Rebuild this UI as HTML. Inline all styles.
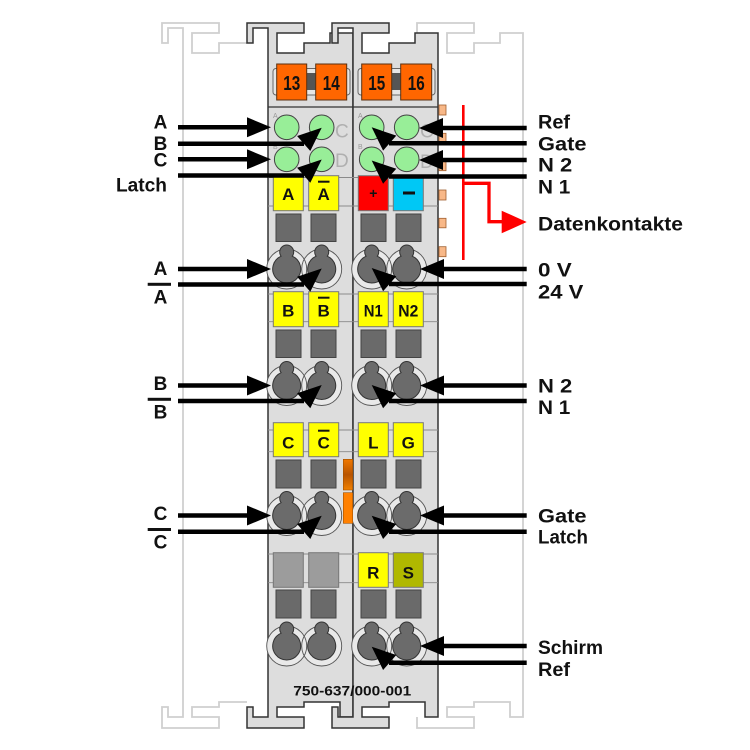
<!DOCTYPE html>
<html><head><meta charset="utf-8"><style>html,body{margin:0;padding:0;background:#fff}svg{display:block}</style></head>
<body>
<svg width="750" height="750" viewBox="0 0 750 750" xmlns="http://www.w3.org/2000/svg" font-family="'Liberation Sans', sans-serif">
<defs>
<linearGradient id="og" x1="0" y1="0" x2="0" y2="1">
<stop offset="0" stop-color="#f07800"/><stop offset="0.5" stop-color="#b85400"/><stop offset="1" stop-color="#f08000"/>
</linearGradient>
</defs>
<rect width="750" height="750" fill="#fff"/>
<!-- ghost modules -->
<g fill="none" stroke="#cfcfcf" stroke-width="1.8">
<polyline points="247,43 219,43 219,53 192,53 192,33 219,33 219,23 162,23 162,43 168,43 168,28 183,28 183,717 168,717 168,707 162,707 162,728 219,728 219,717 192,717 192,707 219,707 219,702 247,702"/>
<polyline points="417,33 417,23 474,23 474,33 447,33 447,53 474,53 474,43 500,43 500,33 523,33 523,717 510,717 510,702 474,702 474,707 447,707 447,717 474,717 474,728 417,728 417,717"/>
</g>
<!-- main modules -->
<g fill="#dddddd" stroke="#333" stroke-width="1.5" stroke-linejoin="miter">
<path d="M247,23 H304 V33 H277 V53 H304 V43 H330 V33 H353 V717 H340 V702 H304 V707 H277 V717 H304 V728 H247 V707 H253 V717 H268 V28 H253 V43 H247 Z"/>
<path d="M332,23 H389 V33 H362 V53 H389 V43 H415 V33 H438 V717 H425 V702 H389 V707 H362 V717 H389 V728 H332 V707 H338 V717 H353 V28 H338 V43 H332 Z"/>
</g>
<!-- orange connectors -->
<rect x="273" y="68.5" width="77" height="26.5" rx="3" fill="#e6e6e6" stroke="#666" stroke-width="1"/>
<rect x="358" y="68.5" width="77" height="26.5" rx="3" fill="#e6e6e6" stroke="#666" stroke-width="1"/>
<rect x="306" y="73" width="10" height="17" fill="#555"/>
<rect x="391" y="73" width="10" height="17" fill="#555"/>
<g fill="#ff6600" stroke="#5a3010" stroke-width="1">
<rect x="276.7" y="64" width="30" height="36"/>
<rect x="315.7" y="64" width="31" height="36"/>
<rect x="361.7" y="64" width="30" height="36"/>
<rect x="400.7" y="64" width="31" height="36"/>
</g>
<g font-size="20" font-weight="bold" fill="#111" text-anchor="middle">
<text x="291.7" y="90" textLength="17" lengthAdjust="spacingAndGlyphs">13</text>
<text x="331.2" y="90" textLength="17" lengthAdjust="spacingAndGlyphs">14</text>
<text x="376.7" y="90" textLength="17" lengthAdjust="spacingAndGlyphs">15</text>
<text x="416.2" y="90" textLength="17" lengthAdjust="spacingAndGlyphs">16</text>
</g>
<line x1="268" y1="107" x2="438" y2="107" stroke="#333" stroke-width="1.3"/>
<!-- green area -->
<g font-size="7" fill="#9a9a9a">
<text x="273" y="118">A</text><text x="273" y="149">B</text>
<text x="358" y="118">A</text><text x="358" y="149">B</text>
</g>
<g font-size="19" fill="#b0b0b0">
<text x="335" y="137.5">C</text><text x="335" y="167">D</text>
<text x="420" y="137.5">C</text><text x="420" y="168">D</text>
</g>
<g fill="#98ee98" stroke="#444" stroke-width="1">
<circle cx="286.7" cy="127.3" r="12.3"/><circle cx="321.7" cy="127.3" r="12.3"/>
<circle cx="371.7" cy="127.3" r="12.3"/><circle cx="406.7" cy="127.3" r="12.3"/>
<circle cx="286.7" cy="159.3" r="12.3"/><circle cx="321.7" cy="159.3" r="12.3"/>
<circle cx="371.7" cy="159.3" r="12.3"/><circle cx="406.7" cy="159.3" r="12.3"/>
</g>
<!-- strips -->
<g stroke="#8a8a8a" stroke-width="0.9">
<line x1="268" y1="177.5" x2="438" y2="177.5"/><line x1="268" y1="206" x2="438" y2="206"/>
<line x1="268" y1="294" x2="438" y2="294"/><line x1="268" y1="321.7" x2="438" y2="321.7"/>
<line x1="268" y1="430" x2="438" y2="430"/><line x1="268" y1="451.7" x2="438" y2="451.7"/>
<line x1="268" y1="554" x2="438" y2="554"/><line x1="268" y1="582.7" x2="438" y2="582.7"/>
</g>
<!-- boxes -->
<g stroke="#777" stroke-width="1">
<rect x="273.3" y="175.7" width="30" height="35" fill="#ffff00"/>
<rect x="308.7" y="175.7" width="30" height="35" fill="#ffff00"/>
<rect x="358.3" y="175.7" width="30" height="35" fill="#ff0000"/>
<rect x="393.3" y="175.7" width="30" height="35" fill="#00c8f5"/>
<rect x="273.3" y="291.7" width="30" height="35" fill="#ffff00"/>
<rect x="308.7" y="291.7" width="30" height="35" fill="#ffff00"/>
<rect x="358.3" y="291.7" width="30" height="35" fill="#ffff00"/>
<rect x="393.3" y="291.7" width="30" height="35" fill="#ffff00"/>
<rect x="273.3" y="422.7" width="30" height="34" fill="#ffff00"/>
<rect x="308.7" y="422.7" width="30" height="34" fill="#ffff00"/>
<rect x="358.3" y="422.7" width="30" height="34" fill="#ffff00"/>
<rect x="393.3" y="422.7" width="30" height="34" fill="#ffff00"/>
<rect x="273.3" y="552.7" width="30" height="34.6" fill="#9c9c9c"/>
<rect x="308.7" y="552.7" width="30" height="34.6" fill="#9c9c9c"/>
<rect x="358.3" y="552.7" width="30" height="34.6" fill="#ffff00"/>
<rect x="393.3" y="552.7" width="30" height="34.6" fill="#b0b800"/>
</g>
<g font-size="17" font-weight="bold" fill="#111" text-anchor="middle">
<text x="288.3" y="200">A</text><text x="323.7" y="200">A</text>
<text x="373.3" y="198" font-size="14">+</text>
<text x="288.3" y="316.7">B</text><text x="323.7" y="316.7">B</text>
<text x="373.3" y="316.7" textLength="19" lengthAdjust="spacingAndGlyphs">N1</text>
<text x="408.3" y="316.7" textLength="20" lengthAdjust="spacingAndGlyphs">N2</text>
<text x="288.3" y="448.3">C</text><text x="323.7" y="448.3">C</text>
<text x="373.3" y="448.3">L</text><text x="408.3" y="448.3">G</text>
<text x="373.3" y="578.3">R</text><text x="408.3" y="578.3">S</text>
</g>
<g fill="#111">
<rect x="318" y="180.7" width="11.5" height="2"/>
<rect x="318" y="296.7" width="11.5" height="2"/>
<rect x="318" y="429.7" width="11.5" height="2"/>
<rect x="403" y="191.5" width="12" height="3"/>
</g>
<!-- dark squares -->
<g fill="#6a6a6a" stroke="#444" stroke-width="1">
<rect x="276" y="214" width="25" height="27.5"/><rect x="311" y="214" width="25" height="27.5"/>
<rect x="361" y="214" width="25" height="27.5"/><rect x="396" y="214" width="25" height="27.5"/>
<rect x="276" y="330" width="25" height="27.5"/><rect x="311" y="330" width="25" height="27.5"/>
<rect x="361" y="330" width="25" height="27.5"/><rect x="396" y="330" width="25" height="27.5"/>
<rect x="276" y="460" width="25" height="28"/><rect x="311" y="460" width="25" height="28"/>
<rect x="361" y="460" width="25" height="28"/><rect x="396" y="460" width="25" height="28"/>
<rect x="276" y="590" width="25" height="28"/><rect x="311" y="590" width="25" height="28"/>
<rect x="361" y="590" width="25" height="28"/><rect x="396" y="590" width="25" height="28"/>
</g>
<!-- rings -->
<g fill="#e9e9e9">
<circle cx="286.7" cy="269" r="20"/><circle cx="321.7" cy="269" r="20"/><circle cx="371.7" cy="269" r="20"/><circle cx="406.7" cy="269" r="20"/>
<circle cx="286.7" cy="385.5" r="20"/><circle cx="321.7" cy="385.5" r="20"/><circle cx="371.7" cy="385.5" r="20"/><circle cx="406.7" cy="385.5" r="20"/>
<circle cx="286.7" cy="515.5" r="20"/><circle cx="321.7" cy="515.5" r="20"/><circle cx="371.7" cy="515.5" r="20"/><circle cx="406.7" cy="515.5" r="20"/>
<circle cx="286.7" cy="646" r="20"/><circle cx="321.7" cy="646" r="20"/><circle cx="371.7" cy="646" r="20"/><circle cx="406.7" cy="646" r="20"/>
</g>
<g fill="none" stroke="#555" stroke-width="0.9">
<circle cx="286.7" cy="269" r="20"/><circle cx="321.7" cy="269" r="20"/><circle cx="371.7" cy="269" r="20"/><circle cx="406.7" cy="269" r="20"/>
<circle cx="286.7" cy="385.5" r="20"/><circle cx="321.7" cy="385.5" r="20"/><circle cx="371.7" cy="385.5" r="20"/><circle cx="406.7" cy="385.5" r="20"/>
<circle cx="286.7" cy="515.5" r="20"/><circle cx="321.7" cy="515.5" r="20"/><circle cx="371.7" cy="515.5" r="20"/><circle cx="406.7" cy="515.5" r="20"/>
<circle cx="286.7" cy="646" r="20"/><circle cx="321.7" cy="646" r="20"/><circle cx="371.7" cy="646" r="20"/><circle cx="406.7" cy="646" r="20"/>
</g>
<!-- keyholes -->
<g fill="#6b6b6b" stroke="#333" stroke-width="1">
<path d="M281.08,256.18 A14 14 0 1 0 292.32,256.18 A7 7 0 1 0 281.08,256.18 Z"/>
<path d="M316.08,256.18 A14 14 0 1 0 327.32,256.18 A7 7 0 1 0 316.08,256.18 Z"/>
<path d="M366.08,256.18 A14 14 0 1 0 377.32,256.18 A7 7 0 1 0 366.08,256.18 Z"/>
<path d="M401.08,256.18 A14 14 0 1 0 412.32,256.18 A7 7 0 1 0 401.08,256.18 Z"/>
<path d="M281.08,372.68 A14 14 0 1 0 292.32,372.68 A7 7 0 1 0 281.08,372.68 Z"/>
<path d="M316.08,372.68 A14 14 0 1 0 327.32,372.68 A7 7 0 1 0 316.08,372.68 Z"/>
<path d="M366.08,372.68 A14 14 0 1 0 377.32,372.68 A7 7 0 1 0 366.08,372.68 Z"/>
<path d="M401.08,372.68 A14 14 0 1 0 412.32,372.68 A7 7 0 1 0 401.08,372.68 Z"/>
<path d="M281.08,502.68 A14 14 0 1 0 292.32,502.68 A7 7 0 1 0 281.08,502.68 Z"/>
<path d="M316.08,502.68 A14 14 0 1 0 327.32,502.68 A7 7 0 1 0 316.08,502.68 Z"/>
<path d="M366.08,502.68 A14 14 0 1 0 377.32,502.68 A7 7 0 1 0 366.08,502.68 Z"/>
<path d="M401.08,502.68 A14 14 0 1 0 412.32,502.68 A7 7 0 1 0 401.08,502.68 Z"/>
<path d="M281.08,633.18 A14 14 0 1 0 292.32,633.18 A7 7 0 1 0 281.08,633.18 Z"/>
<path d="M316.08,633.18 A14 14 0 1 0 327.32,633.18 A7 7 0 1 0 316.08,633.18 Z"/>
<path d="M366.08,633.18 A14 14 0 1 0 377.32,633.18 A7 7 0 1 0 366.08,633.18 Z"/>
<path d="M401.08,633.18 A14 14 0 1 0 412.32,633.18 A7 7 0 1 0 401.08,633.18 Z"/>
</g>
<!-- orange vertical bar -->
<rect x="343.3" y="459.3" width="9.4" height="30.7" fill="url(#og)" stroke="#a05000" stroke-width="0.6"/>
<rect x="343.3" y="492.7" width="9.4" height="30.6" fill="#ff8000" stroke="#a05000" stroke-width="0.6"/>
<!-- data contact tabs -->
<g fill="#f8b888" stroke="#a06030" stroke-width="0.8">
<rect x="439" y="105" width="7" height="10"/><rect x="439" y="133.3" width="7" height="9"/>
<rect x="439" y="161.7" width="7" height="9"/><rect x="439" y="190" width="7" height="10"/>
<rect x="439" y="218.3" width="7" height="9.5"/><rect x="439" y="246.7" width="7" height="10"/>
</g>
<text x="293.3" y="695.7" font-size="14" font-weight="bold" fill="#111" textLength="118" lengthAdjust="spacingAndGlyphs">750-637/000-001</text>
<!-- red data contacts indicator -->
<g fill="none" stroke="#ff0000" stroke-width="2.6">
<line x1="463.3" y1="105" x2="463.3" y2="260"/>
</g>
<polyline points="464,183.3 489,183.3 489,221.7 503,221.7" fill="none" stroke="#ff0000" stroke-width="3.3"/>
<polygon points="501.7,210.7 526.7,222 501.7,233.3" fill="#ff0000"/>
<!-- black arrows -->
<g stroke="#000" stroke-width="4.5" fill="none">
<line x1="178" y1="127.3" x2="248" y2="127.3"/>
<line x1="178" y1="143.7" x2="304" y2="143.7"/>
<line x1="178" y1="159.3" x2="248" y2="159.3"/>
<line x1="178" y1="175.5" x2="304" y2="175.5"/>
<line x1="178" y1="269" x2="248" y2="269"/>
<line x1="178" y1="284.5" x2="304" y2="284.5"/>
<line x1="178" y1="385.5" x2="248" y2="385.5"/>
<line x1="178" y1="401" x2="304" y2="401"/>
<line x1="178" y1="515.5" x2="248" y2="515.5"/>
<line x1="178" y1="531.7" x2="304" y2="531.7"/>
<line x1="442" y1="128" x2="526.7" y2="128"/>
<line x1="389" y1="143.3" x2="526.7" y2="143.3"/>
<line x1="442" y1="160" x2="526.7" y2="160"/>
<line x1="389" y1="176.5" x2="526.7" y2="176.5"/>
<line x1="442" y1="269" x2="526.7" y2="269"/>
<line x1="389" y1="284" x2="526.7" y2="284"/>
<line x1="442" y1="385.5" x2="526.7" y2="385.5"/>
<line x1="389" y1="401" x2="526.7" y2="401"/>
<line x1="442" y1="515.5" x2="526.7" y2="515.5"/>
<line x1="389" y1="531.7" x2="526.7" y2="531.7"/>
<line x1="442" y1="646" x2="526.7" y2="646"/>
<line x1="389" y1="662.7" x2="526.7" y2="662.7"/>
</g>
<g fill="#000">
<polygon points="271,127.3 247,117.3 247,137.3"/>
<polygon points="271,159.3 247,149.3 247,169.3"/>
<polygon points="271,269 247,259 247,279"/>
<polygon points="271,385.5 247,375.5 247,395.5"/>
<polygon points="271,515.5 247,505.5 247,525.5"/>
<polygon points="321.7,127.7 310.3,151 297.1,136"/>
<polygon points="321.7,159.5 310.3,182.8 297.1,167.8"/>
<polygon points="321.7,268.5 310.3,291.8 297.1,276.8"/>
<polygon points="321.7,385 310.3,408.3 297.1,393.3"/>
<polygon points="321.7,515.7 310.3,539 297.1,524"/>
<polygon points="419,128 443,118 443,138"/>
<polygon points="419,160 443,150 443,170"/>
<polygon points="420,269 444,259 444,279"/>
<polygon points="420,385.5 444,375.5 444,395.5"/>
<polygon points="420,515.5 444,505.5 444,525.5"/>
<polygon points="420,646 444,636 444,656"/>
<polygon points="371.7,127.3 383.1,150.6 396.3,135.6"/>
<polygon points="371.7,160.5 383.1,183.8 396.3,168.8"/>
<polygon points="371.7,268 383.1,291.3 396.3,276.3"/>
<polygon points="371.7,385 383.1,408.3 396.3,393.3"/>
<polygon points="371.7,515.7 383.1,539 396.3,524"/>
<polygon points="371.7,646.7 383.1,670 396.3,655"/>
</g>
<!-- left labels -->
<g font-size="19" font-weight="bold" fill="#111" text-anchor="middle">
<text x="160.5" y="128.5">A</text>
<text x="160.5" y="150">B</text>
<text x="160.5" y="166.7">C</text>
<text x="160.5" y="275">A</text>
<text x="160.5" y="303.3">A</text>
<text x="160.5" y="390">B</text>
<text x="160.5" y="418.3">B</text>
<text x="160.5" y="520">C</text>
<text x="160.5" y="548.3">C</text>
</g>
<text x="116" y="191.5" font-size="19" font-weight="bold" fill="#111" textLength="51" lengthAdjust="spacingAndGlyphs">Latch</text>
<g fill="#111">
<rect x="147.7" y="282.8" width="23.3" height="3"/>
<rect x="147.7" y="397.8" width="23.3" height="3"/>
<rect x="147.7" y="528" width="23.3" height="3"/>
</g>
<!-- right labels -->
<g font-size="19" font-weight="bold" fill="#111">
<text x="538" y="128.3" textLength="32" lengthAdjust="spacingAndGlyphs">Ref</text>
<text x="538" y="150.7" textLength="48.5" lengthAdjust="spacingAndGlyphs">Gate</text>
<text x="538" y="171.7" textLength="34.3" lengthAdjust="spacingAndGlyphs">N 2</text>
<text x="538" y="193.3" textLength="32.3" lengthAdjust="spacingAndGlyphs">N 1</text>
<text x="538" y="230.5" textLength="145" lengthAdjust="spacingAndGlyphs">Datenkontakte</text>
<text x="538" y="276.7" textLength="33.7" lengthAdjust="spacingAndGlyphs">0 V</text>
<text x="538" y="298.3" textLength="45.3" lengthAdjust="spacingAndGlyphs">24 V</text>
<text x="538" y="392.5" textLength="34.3" lengthAdjust="spacingAndGlyphs">N 2</text>
<text x="538" y="414" textLength="32.3" lengthAdjust="spacingAndGlyphs">N 1</text>
<text x="538" y="522.7" textLength="48.5" lengthAdjust="spacingAndGlyphs">Gate</text>
<text x="538" y="543.3" textLength="50" lengthAdjust="spacingAndGlyphs">Latch</text>
<text x="538" y="654" textLength="65" lengthAdjust="spacingAndGlyphs">Schirm</text>
<text x="538" y="676" textLength="32" lengthAdjust="spacingAndGlyphs">Ref</text>
</g>
</svg>
</body></html>
